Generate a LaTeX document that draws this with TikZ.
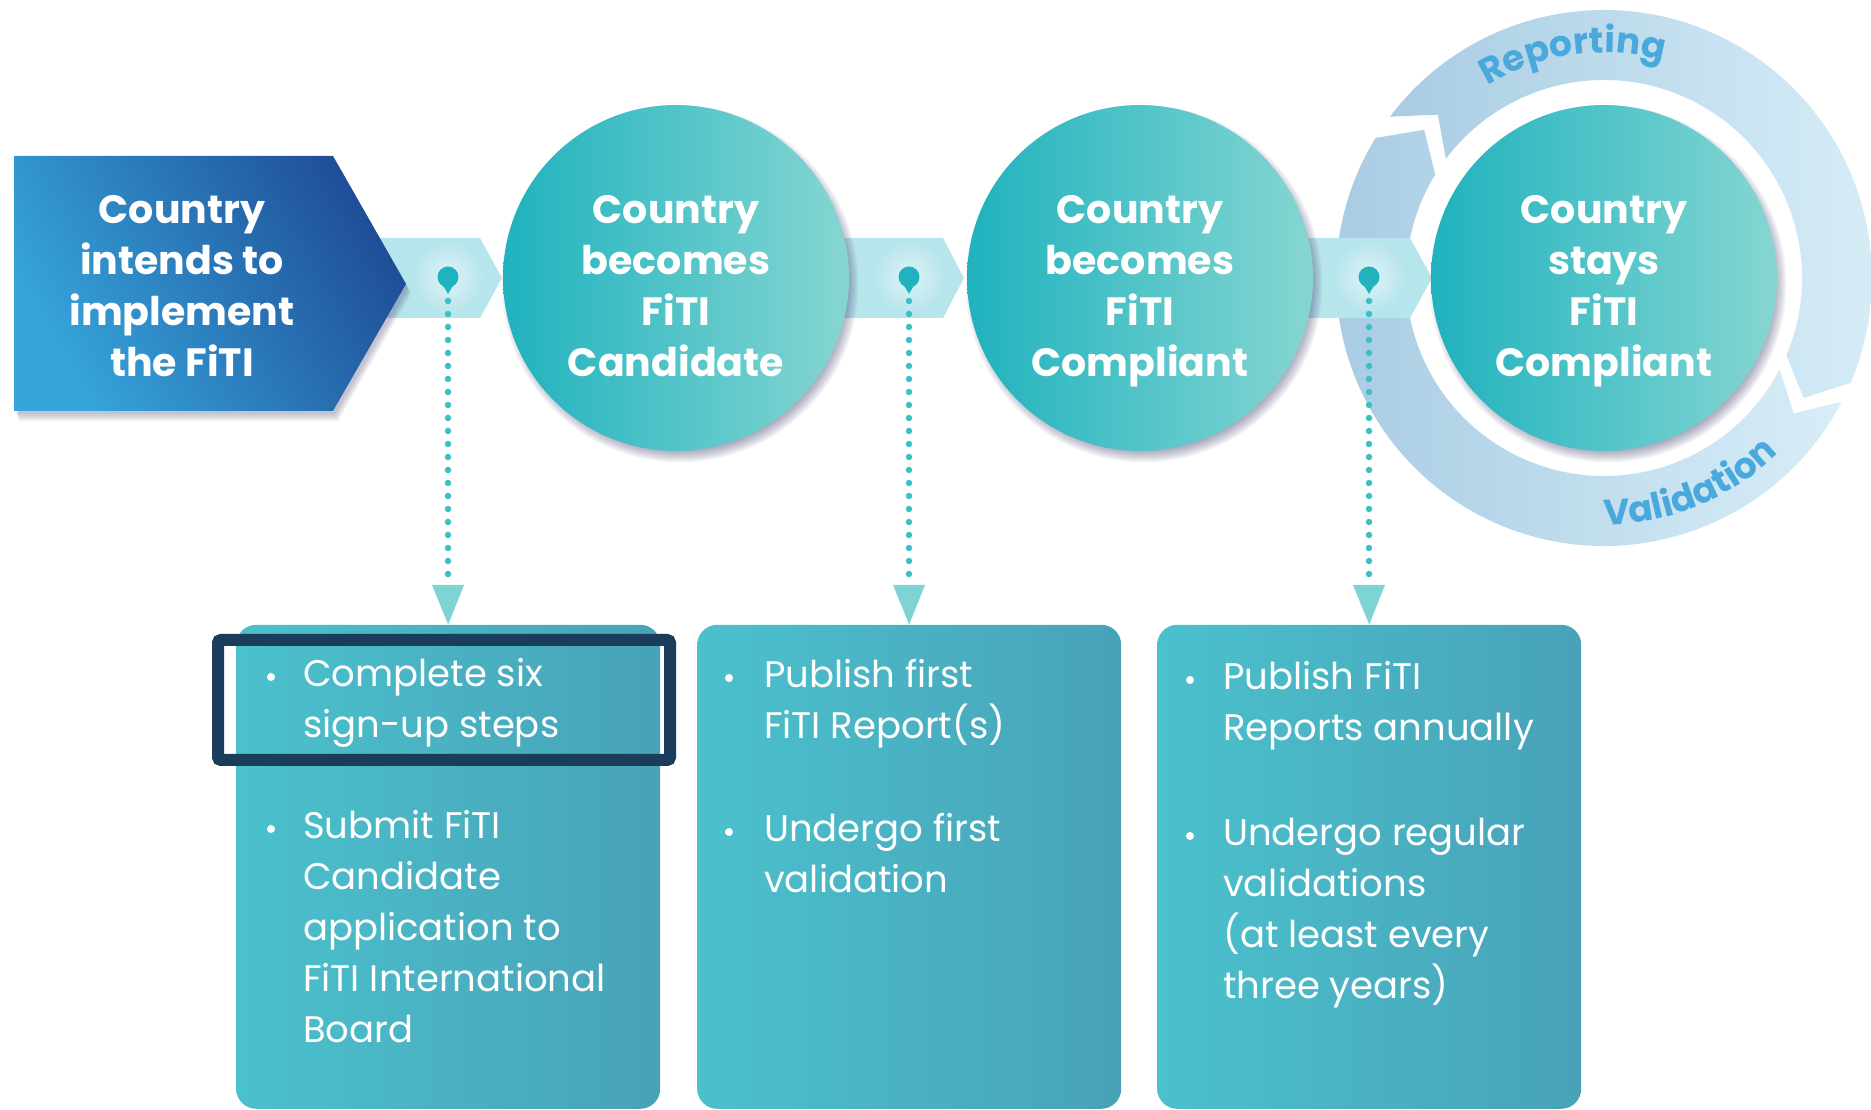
\documentclass[tikz,border=0pt]{standalone}
\usepackage{fontspec}
\setmainfont{Poppins}
\usetikzlibrary{decorations.text}
\definecolor{pentL}{HTML}{36A5DB}
\definecolor{pentD}{HTML}{1F4E98}
\definecolor{circL}{HTML}{1FB2BE}
\definecolor{circR}{HTML}{86D6D2}
\definecolor{bandcol}{HTML}{B7E5EC}
\definecolor{ringL}{HTML}{A9CCE3}
\definecolor{ringR}{HTML}{D8EEF8}
\definecolor{ringtext}{HTML}{4AA9DC}
\definecolor{boxL}{HTML}{4BC1CD}
\definecolor{boxR}{HTML}{48A2B8}
\definecolor{arrowcol}{HTML}{7DD4D3}
\definecolor{dotcol}{HTML}{3DBFC6}
\definecolor{pincol}{HTML}{20B3BF}
\definecolor{hlcol}{HTML}{1B3D5C}
\definecolor{shcol}{HTML}{3D3A66}
\newcommand\ringfont{\fontsize{36}{40}\selectfont\bfseries}
\begin{document}
\begin{tikzpicture}[x=1pt,y=1pt,
  stage/.style={circle, minimum size=346pt, inner sep=0pt, left color=circL, right color=circR},
  headtext/.style={font=\fontsize{39.5}{51}\selectfont\bfseries, text=white, anchor=base, inner sep=0pt},
  bodytext/.style={font=\fontsize{37}{51}\selectfont, text=white, anchor=base west, inner sep=0pt},
  bulletdot/.style={circle, fill=white, minimum size=8pt, inner sep=0pt},
  infobox/.style={rectangle, rounded corners=20pt, minimum width=424pt, minimum height=484pt, inner sep=0pt, anchor=south west, left color=boxL, right color=boxR},
  pinhead/.style={circle, fill=pincol, minimum size=21pt, inner sep=0pt},
  dotline/.style={dotcol, line width=6.5pt, dash pattern=on 0pt off 13pt, line cap=round},
  ringfill/.style={left color=ringL, right color=ringR},
  hlbox/.style={draw=hlcol, line width=12pt, rounded corners=3pt, minimum width=452pt, minimum height=120pt, inner sep=0pt},
  bandfill/.style={fill=bandcol}
]
\useasboundingbox (0,0) rectangle (1871,1109);
\coordinate (C) at (1604,831);

% ring segments
\shade[ringfill] ([shift={(143:268pt)}]C) arc[start angle=143, end angle=-23, radius=268pt]
  -- ([shift={(-31:233pt)}]C) -- ([shift={(-23:198pt)}]C)
  arc[start angle=-23, end angle=143, radius=198pt] -- ([shift={(135.5:233pt)}]C) -- cycle;
\shade[ringfill] ([shift={(-27.5:268pt)}]C) arc[start angle=-27.5, end angle=-211.5, radius=268pt]
  -- ([shift={(-219.5:233pt)}]C) -- ([shift={(-211.5:198pt)}]C)
  arc[start angle=-211.5, end angle=-27.5, radius=198pt] -- ([shift={(-35.5:233pt)}]C) -- cycle;
\path[decorate, decoration={text along path, text align=center, text color=ringtext, text={|\ringfont|Reporting}}]
  ([shift={(150:225pt)}]C) arc[start angle=150, end angle=46, radius=225pt];
\path[decorate, decoration={text along path, text align=center, text color=ringtext, text={|\ringfont|Validation}}]
  ([shift={(-112.5:247pt)}]C) arc[start angle=-112.5, end angle=-22.5, radius=247pt];

% bands
\fill[bandfill] (340,871) -- (480,871) -- (502,831) -- (480,791) -- (340,791) -- cycle;
\fill[bandfill] (830,871) -- (943,871) -- (964,831) -- (943,791) -- (830,791) -- cycle;
\fill[bandfill] (1295,871) -- (1410,871) -- (1432,831) -- (1410,791) -- (1295,791) -- cycle;

% pentagon shadow and pentagon
\foreach \k in {0,...,6}{
  \fill[shcol, opacity=0.05, shift={(2+0.5*\k,-3-1.2*\k)}] (14,953) -- (333,953) -- (406,825) -- (333,698) -- (14,698) -- cycle;
}
\shade[top color=pentD, bottom color=pentL, shading angle=-60] (14,953) -- (333,953) -- (406,825) -- (333,698) -- (14,698) -- cycle;
\node[headtext] (t0) at (182,885) {\begin{minipage}[t]{340pt}\centering Country\\intends to\\implement\\the FiTI\end{minipage}};

% circle shadows
\foreach \cx in {676,1140,1604}{
  \foreach \k in {0,...,7}{
    \fill[shcol, opacity=0.065] (\cx+4,825) circle[radius={167+1.6*\k}];
  }
}
\node[stage] (c1) at (676,831) {};
\node[stage] (c2) at (1140,831) {};
\node[stage] (c3) at (1604,831) {};
\node[headtext] (t1) at (676,885) {\begin{minipage}[t]{340pt}\centering Country\\becomes\\FiTI\\Candidate\end{minipage}};
\node[headtext] (t2) at (1140,885) {\begin{minipage}[t]{340pt}\centering Country\\becomes\\FiTI\\Compliant\end{minipage}};
\node[headtext] (t3) at (1604,885) {\begin{minipage}[t]{340pt}\centering Country\\stays\\FiTI\\Compliant\end{minipage}};

% boxes
\node[infobox] (b1) at (236,0) {};
\node[infobox] (b2) at (697,0) {};
\node[infobox] (b3) at (1157,0) {};

% pins, dotted connectors, arrowheads
\foreach \x/\n in {448/1,909/2,1369/3}{
  \shade[inner color=white!55!bandcol, outer color=bandcol] (\x,832) circle[radius=36pt];
  \node[pinhead] (p\n) at (\x,832) {};
  \fill[pincol] ([xshift=-7pt,yshift=-5pt]p\n.center) -- ([xshift=7pt,yshift=-5pt]p\n.center) -- ([yshift=-17pt]p\n.center) -- cycle;
  \coordinate (a\n) at (\x,524);
  \draw[dotline] ([yshift=-24pt]p\n.center) -- ([yshift=6pt]a\n);
  \fill[arrowcol] ([xshift=-16pt]a\n) -- ([xshift=16pt]a\n) -- (b\n.north) -- cycle;
}

% box 1 text
\node[bulletdot] (d11) at (271,432) {};
\node[bodytext] (x11) at (303,422) {\begin{minipage}[t]{350pt}Complete six\\sign-up steps\end{minipage}};
\node[bulletdot] (d12) at (271,280) {};
\node[bodytext] (x12) at (303,270) {\begin{minipage}[t]{350pt}Submit FiTI\\Candidate\\application to\\FiTI International\\Board\end{minipage}};
% box 2 text
\node[bulletdot] (d21) at (729,431) {};
\node[bodytext] (x21) at (764,421) {\begin{minipage}[t]{350pt}Publish first\\FiTI Report(s)\end{minipage}};
\node[bulletdot] (d22) at (729,277) {};
\node[bodytext] (x22) at (764,267) {\begin{minipage}[t]{350pt}Undergo first\\validation\end{minipage}};
% box 3 text
\node[bulletdot] (d31) at (1190,429) {};
\node[bodytext] (x31) at (1223,419) {\begin{minipage}[t]{350pt}Publish FiTI\\Reports annually\end{minipage}};
\node[bulletdot] (d32) at (1190,273) {};
\node[bodytext] (x32) at (1223,263) {\begin{minipage}[t]{350pt}Undergo regular\\validations\\(at least every\\three years)\end{minipage}};

% highlight
\node[hlbox] (hl) at (444,409) {};
\end{tikzpicture}
\end{document}
